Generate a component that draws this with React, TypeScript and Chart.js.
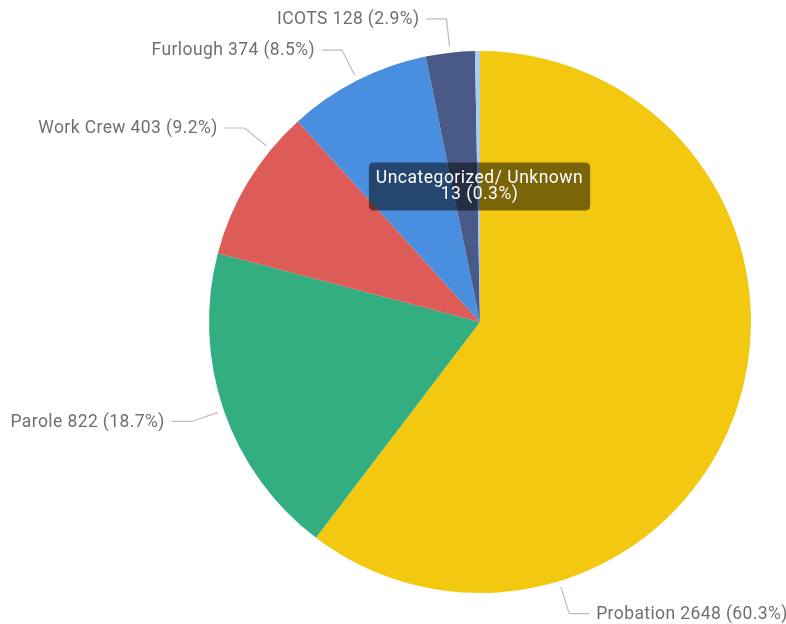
import React, { useEffect, useRef } from "react";
import { Chart, registerables, Tooltip } from "chart.js";

Chart.register(...registerables);

const categories = ["Probation", "Parole", "Work Crew", "Furlough", "ICOTS", "Uncategorized/ Unknown"];
const counts = [2648, 822, 403, 374, 128, 13];
const sliceColors = ["#F2C811", "#33AE81", "#DD5C57", "#4A8FDF", "#4A5A88", "#A3CDF2"];
// label leader anchor (degrees clockwise from 12 o'clock); null = slice midpoint
const labelAnchorDeg: (number | null)[] = [163, null, 309.5, null, null, null];
const labelVisible = [true, true, true, true, true, false];
const tooltipIndex = 5;

const FONT = "Roboto, 'Noto Sans', sans-serif";
const LETTER_SPACING = "0.4px";
const total = counts.reduce((a, b) => a + b, 0);
const pct = (v: number) => ((v / total) * 100).toFixed(1) + "%";
const labelText = (i: number) => `${categories[i]} ${counts[i]} (${pct(counts[i])})`;

(Tooltip as any).positioners.pieUpper = function (elements: any[]) {
  if (!elements.length) return false;
  const el = elements[0].element;
  return { x: el.x - 0.5, y: el.y - el.outerRadius / 2 };
};

const spacingPlugin = {
  id: "letterSpacing",
  beforeUpdate(chart: any) {
    chart.ctx.letterSpacing = "0.5px";
  },
  beforeDraw(chart: any) {
    chart.ctx.letterSpacing = "0.5px";
  },
};

const leaderPlugin = {
  id: "leaderLabels",
  afterDatasetsDraw(chart: any) {
    const ctx = chart.ctx;
    const meta = chart.getDatasetMeta(0);
    ctx.save();
    meta.data.forEach((arc: any, i: number) => {
      if (!labelVisible[i]) return;
      const { x, y, startAngle, endAngle, outerRadius } = arc.getProps(
        ["x", "y", "startAngle", "endAngle", "outerRadius"],
        true
      );
      const d = labelAnchorDeg[i];
      const ang = d == null ? (startAngle + endAngle) / 2 : ((d - 90) * Math.PI) / 180;
      const c = Math.cos(ang);
      const s = Math.sin(ang);
      const p0x = x + c * (outerRadius + 6);
      const p0y = y + s * (outerRadius + 6);
      const p1x = x + c * (outerRadius + 34);
      const p1y = y + s * (outerRadius + 34);
      const dir = c >= 0 ? 1 : -1;
      const p2x = p1x + dir * 20;
      ctx.beginPath();
      ctx.moveTo(p0x, p0y);
      ctx.lineTo(p1x, p1y);
      ctx.lineTo(p2x, p1y);
      ctx.strokeStyle = "#BDBDBD";
      ctx.lineWidth = 1.2;
      ctx.stroke();
      ctx.font = `17.5px ${FONT}`;
      ctx.letterSpacing = LETTER_SPACING;
      ctx.fillStyle = "#707070";
      ctx.textAlign = dir > 0 ? "left" : "right";
      ctx.textBaseline = "middle";
      ctx.fillText(labelText(i), p2x + dir * 7, p1y + 1);
    });
    ctx.restore();
  },
};

export default function App() {
  const canvasRef = useRef<HTMLCanvasElement | null>(null);

  useEffect(() => {
    const canvas = canvasRef.current;
    if (!canvas) return;
    const chart = new Chart(canvas, {
      type: "pie",
      data: {
        labels: categories,
        datasets: [
          {
            data: counts,
            backgroundColor: sliceColors,
            hoverBackgroundColor: sliceColors,
            borderWidth: 0,
            hoverBorderWidth: 0,
            hoverOffset: 0,
          },
        ],
      },
      options: {
        responsive: false,
        animation: false,
        events: [],
        layout: { padding: { left: 209, right: 35, top: 51, bottom: 31 } },
        plugins: {
          legend: { display: false },
          tooltip: {
            enabled: true,
            animation: false,
            position: "pieUpper" as any,
            xAlign: "center",
            yAlign: "center",
            caretSize: 0,
            caretPadding: 0,
            backgroundColor: "rgba(0,0,0,0.5)",
            cornerRadius: 5,
            displayColors: false,
            titleAlign: "center",
            bodyAlign: "center",
            titleColor: "#FFFFFF",
            bodyColor: "#FFFFFF",
            titleFont: { family: FONT, size: 17.5, weight: "normal", lineHeight: "15px" } as any,
            bodyFont: { family: FONT, size: 17.5, weight: "normal", lineHeight: "15px" } as any,
            titleMarginBottom: 1,
            titleSpacing: 0,
            bodySpacing: 0,
            padding: { left: 7, right: 7, top: 9, bottom: 8 } as any,
            callbacks: {
              title: (items: any[]) => categories[items[0].dataIndex],
              label: (item: any) => `${counts[item.dataIndex]} (${pct(counts[item.dataIndex])})`,
            },
          },
        },
      },
      plugins: [spacingPlugin, leaderPlugin],
    });
    (chart.ctx as any).letterSpacing = "0.5px";
    chart.tooltip?.setActiveElements([{ datasetIndex: 0, index: tooltipIndex }], { x: 0, y: 0 });
    chart.update();
    return () => chart.destroy();
  }, []);

  return (
    <div style={{ position: "fixed", left: 0, top: 0, width: 786, height: 624, background: "#FFFFFF" }}>
      <canvas ref={canvasRef} width={786} height={624} style={{ display: "block", width: 786, height: 624 }} />
    </div>
  );
}
